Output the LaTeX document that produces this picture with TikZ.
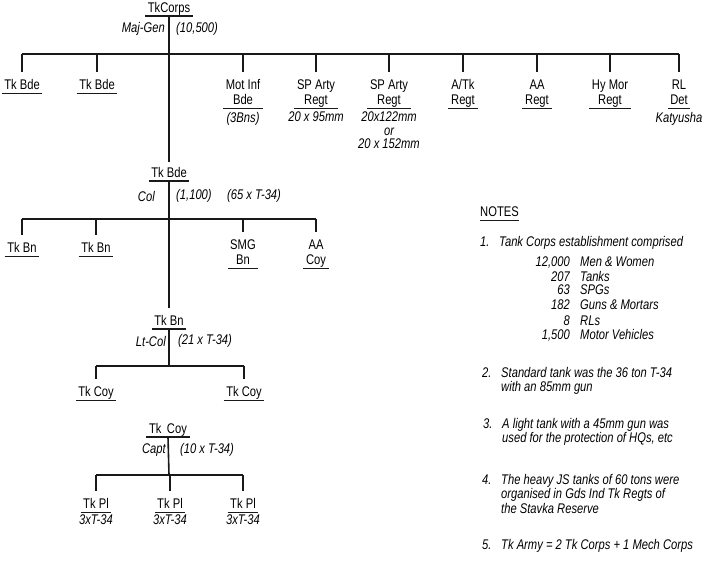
\documentclass[tikz,border=0pt]{standalone}
\usepackage{fontspec}
\setmainfont{Liberation Sans}[FakeStretch=0.8]
\usetikzlibrary{positioning}
\colorlet{myink}{black!90}
\newcommand\chartfont{\fontsize{14}{15}\selectfont}
\newcommand\notefont{\fontsize{14}{14.5}\selectfont\itshape}
\newcommand\notetext[2]{\begin{tabular}{@{}p{19pt}@{}l@{}}#1&#2\end{tabular}}
\tikzstyle{underline}=[draw,myink,line width=0.8]
\tikzstyle{head line}=[draw,myink,line width=2.4]
\tikzstyle{box}=[font=\chartfont,align=center,anchor=south,inner xsep=2.5,inner ysep=1,text depth=2.5pt]
\tikzstyle{unit}=[box,append after command={(\tikzlastnode.south west) edge[underline] (\tikzlastnode.south east)}]
\tikzstyle{head}=[box,append after command={(\tikzlastnode.south west) edge[head line] (\tikzlastnode.south east)}]
\tikzstyle{sub}=[font=\notefont,align=center,inner sep=0]
\tikzstyle{note}=[font=\notefont,anchor=north west,inner sep=0]
\tikzstyle{trunk}=[myink,line width=1.6]
\tikzstyle{drop}=[myink,line width=1.6,shorten >=6]

\begin{document}
\begin{tikzpicture}[x=1pt,y=-1pt]
  \useasboundingbox (0,0) rectangle (708,560);

  % TANK CORPS
  \node[head] (corps) at (169,16) {TkCorps};
  \node[sub,anchor=east] (corpsrank) at (165,29) {Maj-Gen};
  \node[sub,anchor=west] (corpsmen) at (176,29) {(10,500)};
  \coordinate (corpsbar) at (169,54);

  \node[unit] (tkbdeA) at (22,93)   {Tk Bde};
  \node[unit] (tkbdeB) at (97,93)   {Tk Bde};
  \node[unit] (motinf) at (243,108) {Mot Inf\\Bde};
  \node[unit] (sparA)  at (316,108) {SP Arty\\Regt};
  \node[unit] (sparB)  at (389,108) {SP Arty\\Regt};
  \node[unit] (atk)    at (463,108) {A/Tk\\Regt};
  \node[unit] (aareg)  at (537,108) {AA\\Regt};
  \node[unit] (hymor)  at (610,108) {Hy Mor\\Regt};
  \node[unit] (rldet)  at (679,108) {RL\\Det};

  \node[sub,below=4pt of motinf] (motinfsub) {(3Bns)};
  \node[sub,below=4pt of sparA]  (sparAsub)  {20 x 95mm};
  \node[sub,below=4pt of sparB,font=\fontsize{14}{13.5}\selectfont\itshape] (sparBsub)
    {20x122mm\\or\\20 x 152mm};
  \node[sub,below=4pt of rldet]  (rldetsub)  {Katyusha};

  \draw[trunk] (tkbdeA.north |- corpsbar) -- (rldet.north |- corpsbar);
  \foreach \n in {tkbdeA,tkbdeB,motinf,sparA,sparB,atk,aareg,hymor,rldet}{
    \draw[drop] (\n.north |- corpsbar) -- (\n.north);
  }

  % TANK BRIGADE
  \node[head] (tkbde) at (169,181) {Tk Bde};
  \draw[trunk,shorten >=4] (corps.south) -- (tkbde.north);
  \node[sub,anchor=east] (bderank) at (155,196) {Col};
  \node[sub,anchor=west] (bdemen)  at (176,196) {(1,100)};
  \node[sub,anchor=west] (bdetanks) at (227,196) {(65 x T-34)};
  \coordinate (bdebar) at (169,219);

  \node[unit] (tkbnA) at (22,256)  {Tk Bn};
  \node[unit] (tkbnB) at (96,256)  {Tk Bn};
  \node[unit] (smgbn) at (243,268) {SMG\\Bn};
  \node[unit] (aacoy) at (316,268) {AA\\Coy};

  \draw[trunk] (tkbnA.north |- bdebar) -- (aacoy.north |- bdebar);
  \foreach \n in {tkbnA,tkbnB,smgbn,aacoy}{
    \draw[drop] (\n.north |- bdebar) -- (\n.north);
  }

  % TANK BATTALION
  \node[head] (tkbn) at (169,329) {Tk Bn};
  \draw[trunk,shorten >=6] (tkbde.south) -- (tkbn.north);
  \node[sub,anchor=east] (bnrank)  at (166,341) {Lt-Col};
  \node[sub,anchor=west] (bntanks) at (178,341) {(21 x T-34)};
  \coordinate (bnbar) at (169,366);

  \node[unit] (tkcoyA) at (96,400)  {Tk Coy};
  \node[unit] (tkcoyB) at (244,400) {Tk Coy};

  \draw[trunk] (tkbn.south) -- (bnbar);
  \draw[trunk] (tkcoyA.north |- bnbar) -- (tkcoyB.north |- bnbar);
  \foreach \n in {tkcoyA,tkcoyB}{
    \draw[drop] (\n.north |- bnbar) -- (\n.north);
  }

  % TANK COMPANY
  \node[head] (tkcoy) at (168,437) {Tk\, Coy};
  \node[sub,anchor=east] (coyrank)  at (166,450) {Capt};
  \node[sub,anchor=west] (coytanks) at (180,450) {(10 x T-34)};
  \coordinate (coybar) at (169,475);

  \node[unit] (tkplA) at (96,512)  {Tk Pl};
  \node[unit] (tkplB) at (170,512) {Tk Pl};
  \node[unit] (tkplC) at (243,512) {Tk Pl};
  \node[sub,below=3pt of tkplA] (tkplAsub) {3xT-34};
  \node[sub,below=3pt of tkplB] (tkplBsub) {3xT-34};
  \node[sub,below=3pt of tkplC] (tkplCsub) {3xT-34};

  \draw[trunk] (tkcoy.south) -- (coybar);
  \draw[trunk] (tkplA.north |- coybar) -- (tkplC.north |- coybar);
  \foreach \n in {tkplA,tkplB,tkplC}{
    \draw[drop] (\n.north |- coybar) -- (\n.north);
  }

  % NOTES
  \node[unit,anchor=south west,inner xsep=0] (notes) at (480,220) {NOTES};

  \node[note] (note1) at (480,236) {\notetext{1.}{Tank Corps establishment comprised}};
  \foreach \num/\what/\y [count=\i] in {12{,}000/Men \& Women/266.5, 207/Tanks/281.5,
      63/SPGs/294.5, 182/Guns \& Mortars/309.5, 8/RLs/325, 1{,}500/Motor Vehicles/339.5}{
    \node[font=\notefont,anchor=base east,inner sep=0] (count\i) at (570,\y) {\num};
    \node[font=\notefont,anchor=base west,inner sep=0] (item\i) at (580,\y) {\what};
  }

  \node[note] (note2) at (482,367) {\notetext{2.}{Standard tank was the 36 ton T-34\\&with an 85mm gun}};
  \node[note] (note3) at (483,418) {\notetext{3.}{A light tank with a 45mm gun was\\&used for the protection of HQs, etc}};
  \node[note] (note4) at (482,474) {\notetext{4.}{The heavy JS tanks of 60 tons were\\&organised in Gds Ind Tk Regts of\\&the Stavka Reserve}};
  \node[note] (note5) at (482,539) {\notetext{5.}{Tk Army = 2 Tk Corps + 1 Mech Corps}};

\end{tikzpicture}
\end{document}
